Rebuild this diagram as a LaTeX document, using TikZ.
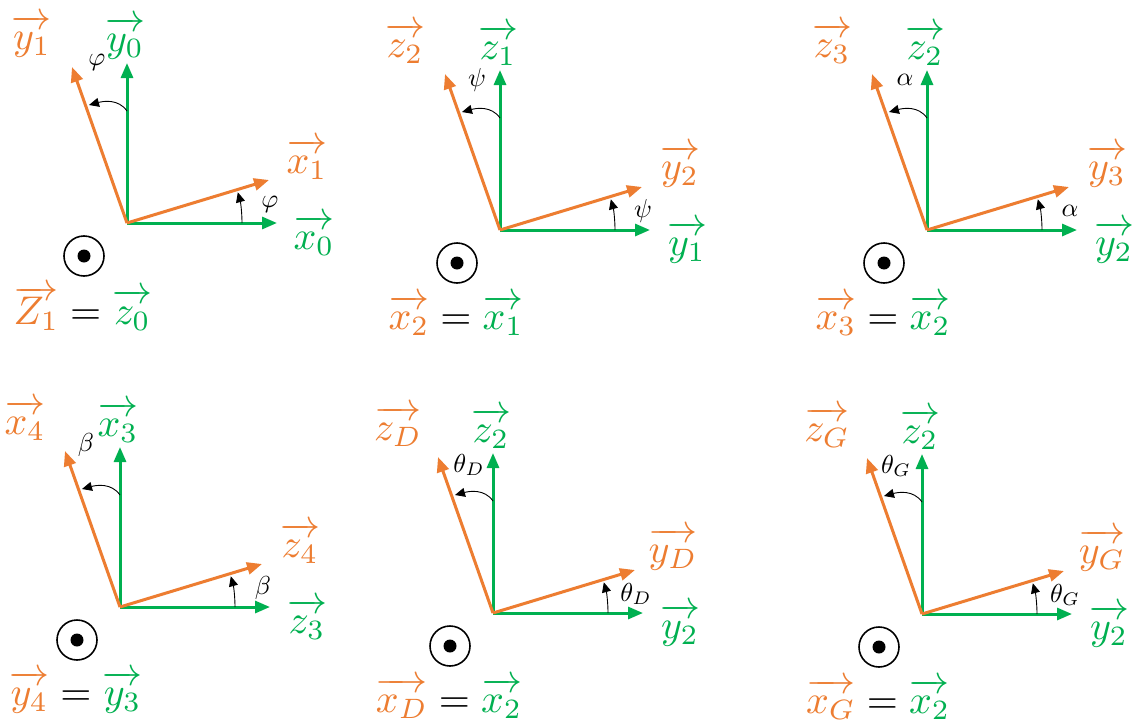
\documentclass[tikz,border=0pt]{standalone}
\usetikzlibrary{calc,arrows.meta}
\definecolor{orng}{RGB}{237,125,49}
\definecolor{grn}{RGB}{0,176,80}
\tikzset{
  garrow/.style={draw=grn,line width=3pt,-{Triangle[length=15pt,width=12pt]}},
  oarrow/.style={draw=orng,line width=3pt,-{Triangle[length=15pt,width=12pt]}},
  anglearc/.style={draw=black,line width=0.9pt,-{Triangle[length=10pt,width=9pt]}},
  axlabel/.style={scale=4.0,inner sep=0pt},
  anglabel/.style={scale=2.6,inner sep=0pt},
  outcircle/.style={draw=black,line width=1.6pt},
}
\newcommand\orvec[1]{{\color{orng}\overrightarrow{\vphantom{t}#1}}}
\newcommand\grvec[1]{{\color{grn}\overrightarrow{\vphantom{t}#1}}}
% #1 prefix, #2 origin, #3 orange up label, #4 green up label, #5 angle,
% #6 orange right label, #7 green right label, #8 bottom equation, #9 top angle label offset
\newcommand\framepanel[9]{%
  \coordinate (#1o) at (#2);
  \coordinate (#1gu) at ($(#1o)+(0,160)$);
  \coordinate (#1gr) at ($(#1o)+(150,0)$);
  \coordinate (#1ou) at ($(#1o)+(-55,156)$);
  \coordinate (#1or) at ($(#1o)+(142,43)$);
  \draw[garrow] (#1o) -- (#1gu);
  \draw[garrow] (#1o) -- (#1gr);
  \draw[oarrow] (#1o) -- (#1ou);
  \draw[oarrow] (#1o) -- (#1or);
  \coordinate (#1a) at ($(#1o)+(0,112)$);
  \coordinate (#1ae) at ($(#1o)+(-38,118)$);
  \draw[anglearc] (#1a) to[out=125,in=15] (#1ae);
  \coordinate (#1b) at ($(#1o)+(0:115)$);
  \draw[anglearc] (#1b) arc[start angle=0,end angle=15.5,radius=115pt];
  \node[axlabel] (#1lou) at ($(#1o)+(-95,187)$) {$\orvec{#3}$};
  \node[axlabel] (#1lgu) at ($(#1o)+(-2,185)$) {$\grvec{#4}$};
  \node[axlabel] (#1lor) at ($(#1o)+(180,64)$) {$\orvec{#6}$};
  \node[axlabel] (#1lgr) at ($(#1o)+(187,-12)$) {$\grvec{#7}$};
  \node[anglabel] (#1anga) at ($(#1o)+(#9)$) {$#5$};
  \node[anglabel] (#1angb) at ($(#1o)+(143,19)$) {$#5$};
  \node[outcircle,circle,minimum size=40pt,inner sep=0pt] (#1c) at ($(#1o)+(-43,-33)$) {};
  \fill[black] (#1c.center) circle[radius=6.5pt];
  \node[axlabel] (#1eq) at ($(#1o)+(-44,-85)$) {$#8$};
}
\begin{document}
\begin{tikzpicture}[x=1pt,y=1pt]
  \fill[white] (0,0) rectangle (1137,-720);
  \useasboundingbox (0,0) rectangle (1137,-720);
  \framepanel{p1}{127,-223}{y_1}{y_0}{\varphi}{x_1}{x_0}{\orvec{Z_1}=\grvec{z_0}}{-30,161}
  \framepanel{p2}{500,-230}{z_2}{z_1}{\psi}{y_2}{y_1}{\orvec{x_2}=\grvec{x_1}}{-23,150}
  \framepanel{p3}{927,-230}{z_3}{z_2}{\alpha}{y_3}{y_2}{\orvec{x_3}=\grvec{x_2}}{-22,150}
  \framepanel{p4}{120,-607}{x_4}{x_3}{\beta}{z_4}{z_3}{\orvec{y_4}=\grvec{y_3}}{-34,162}
  \framepanel{p5}{493,-613}{z_D}{z_2}{\theta_D}{y_D}{y_2}{\orvec{x_D}=\grvec{x_2}}{-24,148}
  \framepanel{p6}{922,-614}{z_G}{z_2}{\theta_G}{y_G}{y_2}{\orvec{x_G}=\grvec{x_2}}{-26,148}
\end{tikzpicture}
\end{document}
